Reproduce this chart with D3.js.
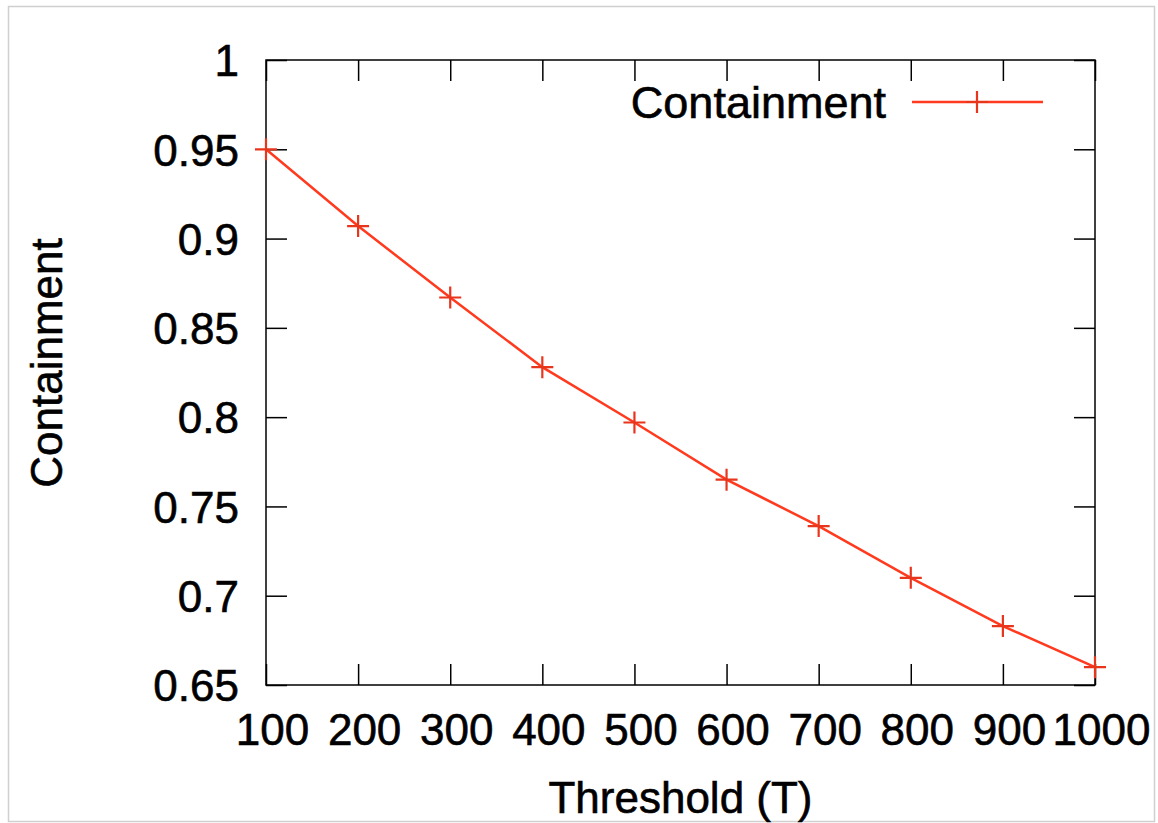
<!DOCTYPE html>
<html>
<head>
<meta charset="utf-8">
<script src="https://cdn.jsdelivr.net/npm/d3@7"></script>
<style>
html,body{margin:0;padding:0;background:#fff;}
text{font-family:"Liberation Sans",Arial,sans-serif;fill:#000;stroke:#000;stroke-width:0.6px;}
</style>
</head>
<body>
<svg id="chart" width="1158" height="823"></svg>
<script>
const thresholds = [100, 200, 300, 400, 500, 600, 700, 800, 900, 1000];
const containment = [0.950, 0.907, 0.867, 0.828, 0.797, 0.765, 0.739, 0.710, 0.683, 0.660];
const xTicks = [100, 200, 300, 400, 500, 600, 700, 800, 900, 1000];
const yTicks = [0.65, 0.7, 0.75, 0.8, 0.85, 0.9, 0.95, 1];
const seriesName = "Containment";
const xTitle = "Threshold (T)";
const yTitle = "Containment";

const svg = d3.select("#chart");
const m = {left: 266, right: 1095, top: 60, bottom: 685};
const color = "#ff3a1e";
const fontSize = 44;

// outer light border
svg.append("rect").attr("x", 8.5).attr("y", 6.5).attr("width", 1146).attr("height", 815)
  .attr("fill", "none").attr("stroke", "#d0d0d0").attr("stroke-width", 1.5);

const x = d3.scaleLinear().domain([100, 1000]).range([m.left, m.right]);
const y = d3.scaleLinear().domain([0.65, 1]).range([m.bottom, m.top]);

const tickLen = 21;
const fmt = d => String(+d.toFixed(2));

// bottom axis (ticks inward)
const gx = svg.append("g").attr("transform", `translate(0,${m.bottom})`)
  .call(d3.axisBottom(x).tickValues(xTicks).tickSize(-tickLen).tickPadding(0).tickFormat(d3.format("d")));
gx.select(".domain").remove();
gx.selectAll("line").attr("stroke", "#000").attr("stroke-width", 1.5);
gx.selectAll("text").attr("font-size", fontSize).attr("y", 60).attr("dy", 0).attr("x", 6);

// top axis mirror
const gxt = svg.append("g").attr("transform", `translate(0,${m.top})`)
  .call(d3.axisTop(x).tickValues(xTicks).tickSize(-tickLen).tickFormat(""));
gxt.select(".domain").remove();
gxt.selectAll("line").attr("stroke", "#000").attr("stroke-width", 1.5);

// left axis
const gy = svg.append("g").attr("transform", `translate(${m.left},0)`)
  .call(d3.axisLeft(y).tickValues(yTicks).tickSize(-tickLen).tickPadding(26).tickFormat(fmt));
gy.select(".domain").remove();
gy.selectAll("line").attr("stroke", "#000").attr("stroke-width", 1.5);
gy.selectAll("text").attr("font-size", fontSize).attr("dy", "0.36em").attr("x", -27);

// right axis mirror
const gyr = svg.append("g").attr("transform", `translate(${m.right},0)`)
  .call(d3.axisRight(y).tickValues(yTicks).tickSize(-tickLen).tickFormat(""));
gyr.select(".domain").remove();
gyr.selectAll("line").attr("stroke", "#000").attr("stroke-width", 1.5);

// frame
svg.append("rect").attr("x", m.left).attr("y", m.top)
  .attr("width", m.right - m.left).attr("height", m.bottom - m.top)
  .attr("fill", "none").attr("stroke", "#000").attr("stroke-width", 1.5);

// line
const data = thresholds.map((t, i) => ({t, v: containment[i]}));
svg.append("path").datum(data)
  .attr("fill", "none").attr("stroke", color).attr("stroke-width", 2.5)
  .attr("d", d3.line().x(d => x(d.t)).y(d => y(d.v)));

// plus markers
const ms = 11;
const plus = `M${-ms},0H${ms}M0,${-ms}V${ms}`;
svg.append("g").selectAll("path").data(data).join("path")
  .attr("transform", d => `translate(${x(d.t)},${y(d.v)})`)
  .attr("d", plus).attr("stroke", "#e8361c").attr("stroke-width", 2.2).attr("fill", "none");

// legend
svg.append("text").attr("x", 886).attr("y", 118).attr("text-anchor", "end")
  .attr("font-size", 45).text(seriesName);
svg.append("line").attr("x1", 912).attr("x2", 1043).attr("y1", 102).attr("y2", 102)
  .attr("stroke", color).attr("stroke-width", 2.5);
svg.append("path").attr("transform", "translate(977,102)").attr("d", plus)
  .attr("stroke", "#e8361c").attr("stroke-width", 2.2);

// axis titles
svg.append("text").attr("x", (m.left + m.right) / 2).attr("y", 813)
  .attr("text-anchor", "middle").attr("font-size", fontSize).text(xTitle);
svg.append("text").attr("transform", "translate(62,363) rotate(-90)")
  .attr("text-anchor", "middle").attr("font-size", fontSize).text(yTitle);
</script>
</body>
</html>
